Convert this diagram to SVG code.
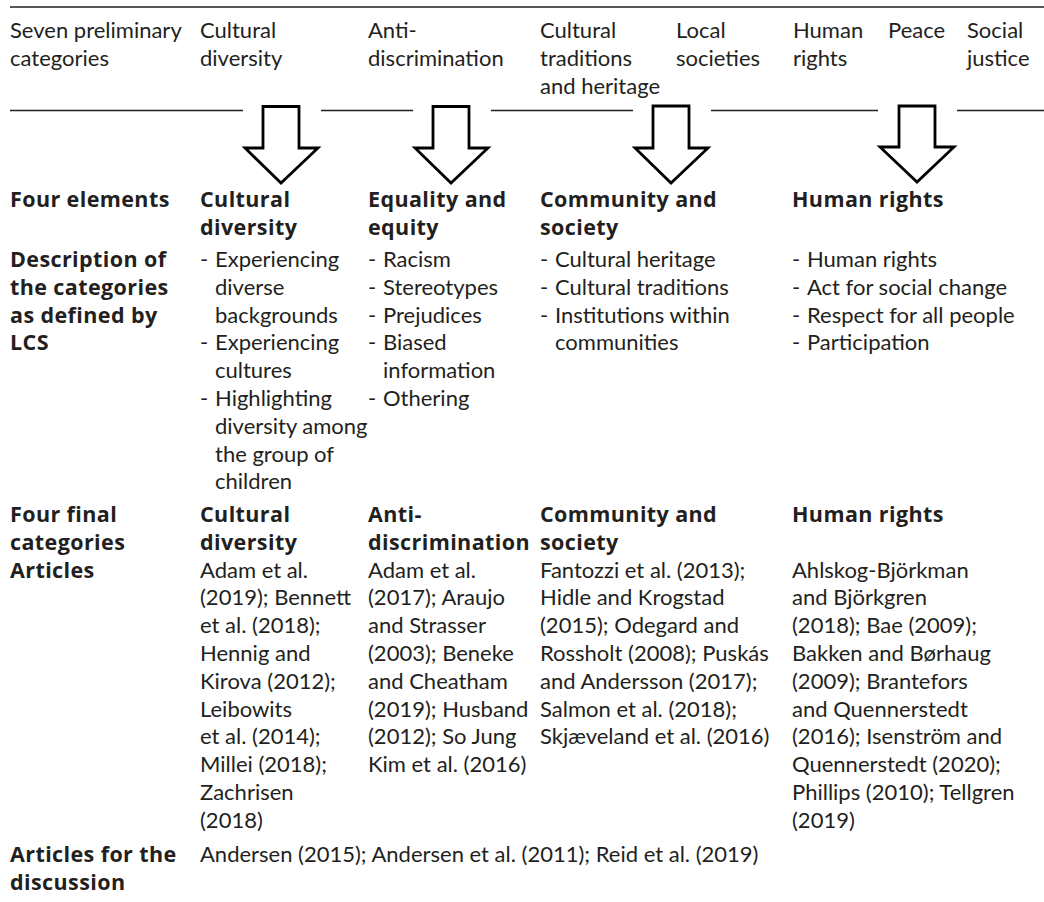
<svg xmlns="http://www.w3.org/2000/svg" width="1044" height="902" viewBox="0 0 1044 902">
<style>
text{font-family:Lato,"Liberation Sans","DejaVu Sans",sans-serif;font-size:22px;fill:#231f20}
.b{font-family:"Open Sans","Noto Sans","Liberation Sans",sans-serif;font-weight:bold;font-size:21.5px;letter-spacing:0.4px}
.rule{stroke:#231f20;stroke-width:1.4;fill:none}
.arr{fill:#fff;stroke:#000;stroke-width:2.8;stroke-linejoin:miter}
</style>
<rect width="1044" height="902" fill="#fff"/>
<g id="rules">
<line class="rule" x1="10" y1="7" x2="1044" y2="7"/>
<line class="rule" x1="10" y1="110.5" x2="243" y2="110.5"/>
<line class="rule" x1="321" y1="110.5" x2="413" y2="110.5"/>
<line class="rule" x1="491" y1="110.5" x2="633" y2="110.5"/>
<line class="rule" x1="711" y1="110.5" x2="878" y2="110.5"/>
<line class="rule" x1="957" y1="110.5" x2="1044" y2="110.5"/>
</g>
<g id="header">
<g id="h-label"><text x="10" y="38">Seven preliminary</text><text x="10" y="65.8">categories</text></g>
<g id="h-cd"><text x="200" y="38">Cultural</text><text x="200" y="65.8">diversity</text></g>
<g id="h-ad"><text x="368" y="38">Anti-</text><text x="368" y="65.8">discrimination</text></g>
<g id="h-ct"><text x="540" y="38">Cultural</text><text x="540" y="65.8">traditions</text><text x="540" y="93.6">and heritage</text></g>
<g id="h-ls"><text x="676" y="38">Local</text><text x="676" y="65.8">societies</text></g>
<g id="h-hr"><text x="793" y="38">Human</text><text x="793" y="65.8">rights</text></g>
<g id="h-pe"><text x="888" y="38">Peace</text></g>
<g id="h-sj"><text x="967" y="38">Social</text><text x="967" y="65.8">justice</text></g>
</g>
<g id="connectors">
<path class="arr" d="M263,106.5 H299 V148 H318 L281,183 L245,148 H263 Z"/>
<path class="arr" d="M433,106.5 H469 V148 H488 L451,183 L415,148 H433 Z"/>
<path class="arr" d="M653,106 H689 V148 H708 L671,183 L635,148 H653 Z"/>
<path class="arr" d="M899,106 H935 V147 H954 L917,182 L880,147 H899 Z"/>
</g>
<g id="four-elements">
<g id="fe-label"><text class="b" x="10" y="207.2">Four elements</text></g>
<g id="fe-cd"><text class="b" x="200" y="207.2">Cultural</text><text class="b" x="200" y="235">diversity</text></g>
<g id="fe-ee"><text class="b" x="368" y="207.2">Equality and</text><text class="b" x="368" y="235">equity</text></g>
<g id="fe-cs"><text class="b" x="540" y="207.2">Community and</text><text class="b" x="540" y="235">society</text></g>
<g id="fe-hr"><text class="b" x="792" y="207.2">Human rights</text></g>
</g>
<g id="description">
<g id="d-label"><text class="b" x="10" y="267">Description of</text><text class="b" x="10" y="294.8">the categories</text><text class="b" x="10" y="322.6">as defined by</text><text class="b" x="10" y="350.4">LCS</text></g>
<g id="d-cd">
<text x="200" y="267">-</text><text x="215" y="267">Experiencing</text>
<text x="215" y="294.8">diverse</text>
<text x="215" y="322.6">backgrounds</text>
<text x="200" y="350.4">-</text><text x="215" y="350.4">Experiencing</text>
<text x="215" y="378.2">cultures</text>
<text x="200" y="406">-</text><text x="215" y="406">Highlighting</text>
<text x="215" y="433.8">diversity among</text>
<text x="215" y="461.6">the group of</text>
<text x="215" y="489.4">children</text>
</g>
<g id="d-ee">
<text x="368" y="267">-</text><text x="383" y="267">Racism</text>
<text x="368" y="294.8">-</text><text x="383" y="294.8">Stereotypes</text>
<text x="368" y="322.6">-</text><text x="383" y="322.6">Prejudices</text>
<text x="368" y="350.4">-</text><text x="383" y="350.4">Biased</text>
<text x="383" y="378.2">information</text>
<text x="368" y="406">-</text><text x="383" y="406">Othering</text>
</g>
<g id="d-cs">
<text x="540" y="267">-</text><text x="555" y="267">Cultural heritage</text>
<text x="540" y="294.8">-</text><text x="555" y="294.8">Cultural traditions</text>
<text x="540" y="322.6">-</text><text x="555" y="322.6">Institutions within</text>
<text x="555" y="350.4">communities</text>
</g>
<g id="d-hr">
<text x="792" y="267">-</text><text x="807" y="267">Human rights</text>
<text x="792" y="294.8">-</text><text x="807" y="294.8">Act for social change</text>
<text x="792" y="322.6">-</text><text x="807" y="322.6">Respect for all people</text>
<text x="792" y="350.4">-</text><text x="807" y="350.4">Participation</text>
</g>
</g>
<g id="final">
<g id="f-label"><text class="b" x="10" y="522">Four final</text><text class="b" x="10" y="549.8">categories</text></g>
<g id="f-cd"><text class="b" x="200" y="522">Cultural</text><text class="b" x="200" y="549.8">diversity</text></g>
<g id="f-ad"><text class="b" x="368" y="522">Anti-</text><text class="b" x="368" y="549.8">discrimination</text></g>
<g id="f-cs"><text class="b" x="540" y="522">Community and</text><text class="b" x="540" y="549.8">society</text></g>
<g id="f-hr"><text class="b" x="792" y="522">Human rights</text></g>
</g>
<g id="articles">
<g id="a-label"><text class="b" x="10" y="577.6">Articles</text></g>
<g id="a-cd">
<text x="200" y="577.6">Adam et al.</text>
<text x="200" y="605.4">(2019); Bennett</text>
<text x="200" y="633.2">et al. (2018);</text>
<text x="200" y="661">Hennig and</text>
<text x="200" y="688.8">Kirova (2012);</text>
<text x="200" y="716.6">Leibowits</text>
<text x="200" y="744.4">et al. (2014);</text>
<text x="200" y="772.2">Millei (2018);</text>
<text x="200" y="800">Zachrisen</text>
<text x="200" y="827.8">(2018)</text>
</g>
<g id="a-ad">
<text x="368" y="577.6">Adam et al.</text>
<text x="368" y="605.4">(2017); Araujo</text>
<text x="368" y="633.2">and Strasser</text>
<text x="368" y="661">(2003); Beneke</text>
<text x="368" y="688.8">and Cheatham</text>
<text x="368" y="716.6">(2019); Husband</text>
<text x="368" y="744.4">(2012); So Jung</text>
<text x="368" y="772.2">Kim et al. (2016)</text>
</g>
<g id="a-cs">
<text x="540" y="577.6">Fantozzi et al. (2013);</text>
<text x="540" y="605.4">Hidle and Krogstad</text>
<text x="540" y="633.2">(2015); Odegard and</text>
<text x="540" y="661">Rossholt (2008); Puskás</text>
<text x="540" y="688.8">and Andersson (2017);</text>
<text x="540" y="716.6">Salmon et al. (2018);</text>
<text x="540" y="744.4">Skjæveland et al. (2016)</text>
</g>
<g id="a-hr">
<text x="792" y="577.6">Ahlskog-Björkman</text>
<text x="792" y="605.4">and Björkgren</text>
<text x="792" y="633.2">(2018); Bae (2009);</text>
<text x="792" y="661">Bakken and Børhaug</text>
<text x="792" y="688.8">(2009); Brantefors</text>
<text x="792" y="716.6">and Quennerstedt</text>
<text x="792" y="744.4">(2016); Isenström and</text>
<text x="792" y="772.2">Quennerstedt (2020);</text>
<text x="792" y="800">Phillips (2010); Tellgren</text>
<text x="792" y="827.8">(2019)</text>
</g>
</g>
<g id="discussion">
<g id="disc-label"><text class="b" x="10" y="862">Articles for the</text><text class="b" x="10" y="890">discussion</text></g>
<g id="disc-list"><text x="200" y="862">Andersen (2015); Andersen et al. (2011); Reid et al. (2019)</text></g>
</g>
</svg>
